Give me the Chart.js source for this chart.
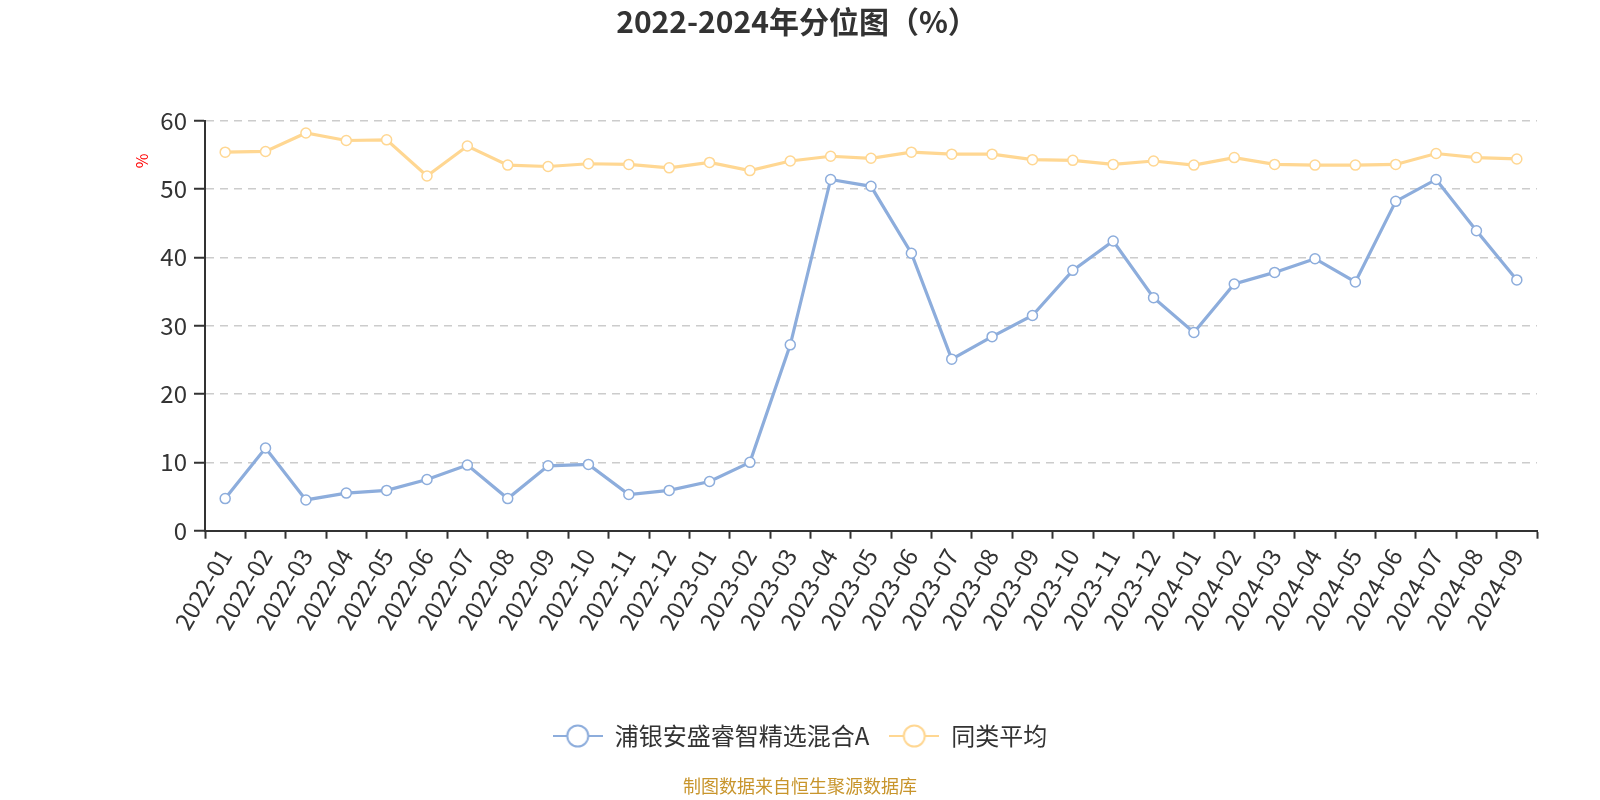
<!DOCTYPE html>
<html>
<head>
<meta charset="utf-8">
<script src="https://cdn.jsdelivr.net/npm/chart.js@4.4.1/dist/chart.umd.min.js"></script>
<style>
html,body{margin:0;padding:0;background:#fff;}
#wrap{width:1600px;height:800px;}
</style>
</head>
<body>
<div id="wrap"><canvas id="c" width="1600" height="800"></canvas></div>
<script>
const categories = ['2022-01','2022-02','2022-03','2022-04','2022-05','2022-06','2022-07','2022-08','2022-09','2022-10','2022-11','2022-12',
  '2023-01','2023-02','2023-03','2023-04','2023-05','2023-06','2023-07','2023-08','2023-09','2023-10','2023-11','2023-12',
  '2024-01','2024-02','2024-03','2024-04','2024-05','2024-06','2024-07','2024-08','2024-09'];
const fundValues = [4.7, 12.1, 4.5, 5.5, 5.9, 7.5, 9.6, 4.7, 9.5, 9.7, 5.3, 5.9,
  7.2, 10.0, 27.2, 51.4, 50.4, 40.6, 25.1, 28.4, 31.5, 38.1, 42.4, 34.1,
  29.0, 36.1, 37.8, 39.8, 36.4, 48.2, 51.4, 43.9, 36.7];
const avgValues = [55.4, 55.5, 58.2, 57.1, 57.2, 51.9, 56.3, 53.5, 53.3, 53.7, 53.6, 53.1,
  53.9, 52.7, 54.1, 54.8, 54.5, 55.4, 55.1, 55.1, 54.3, 54.2, 53.6, 54.1,
  53.5, 54.6, 53.6, 53.5, 53.5, 53.6, 55.2, 54.6, 54.4];
const seriesNames = ['浦银安盛睿智精选混合A', '同类平均'];
const titleText = '2022-2024年分位图（%）';
const footerText = '制图数据来自恒生聚源数据库';
const yAxisName = '%';

const BLUE = '#8DADDC';
const YELLOW = '#FFD792';
const FONT = '"Noto Sans CJK SC", "Noto Sans", sans-serif';

function legendIcon(color) {
  const cv = document.createElement('canvas');
  cv.width = 50; cv.height = 26;
  const g = cv.getContext('2d');
  g.strokeStyle = color;
  g.lineWidth = 2;
  g.beginPath(); g.moveTo(0, 13); g.lineTo(50, 13); g.stroke();
  g.beginPath(); g.arc(25, 13, 10.5, 0, Math.PI * 2);
  g.fillStyle = '#fff'; g.fill();
  g.stroke();
  return cv;
}
const icons = [legendIcon(BLUE), legendIcon(YELLOW)];

const placementPlugin = {
  id: 'placement',
  afterLayout(chart) {
    chart.boxes.forEach(b => {
      if (b === chart.titleBlock) { b.left = 0; b.right = 1594; b.width = 1594; }
      else if (b === chart.legend) { b.left = 0; b.right = 1600; b.width = 1600; }
      else if (b.options && b.options.text === footerText) { b.left = 0; b.right = 1600; b.width = 1600; }
    });
  },
  afterDraw(chart) {
    const ctx = chart.ctx;
    ctx.save();
    ctx.translate(142, 161);
    ctx.rotate(-Math.PI / 2);
    ctx.fillStyle = '#ff0000';
    ctx.font = '16px ' + FONT;
    ctx.textAlign = 'center';
    ctx.textBaseline = 'middle';
    ctx.fillText(yAxisName, 0, 0);
    ctx.restore();
  }
};

new Chart(document.getElementById('c'), {
  type: 'line',
  data: {
    labels: categories,
    datasets: [
      {label: seriesNames[0], data: fundValues, borderColor: BLUE, backgroundColor: '#fff',
       borderWidth: 3.2, pointRadius: 5, pointBorderWidth: 1.5, pointBackgroundColor: '#fff',
       pointBorderColor: BLUE, tension: 0},
      {label: seriesNames[1], data: avgValues, borderColor: YELLOW, backgroundColor: '#fff',
       borderWidth: 3.2, pointRadius: 5, pointBorderWidth: 1.5, pointBackgroundColor: '#fff',
       pointBorderColor: YELLOW, tension: 0}
    ]
  },
  options: {
    responsive: false,
    animation: false,
    devicePixelRatio: 1,
    layout: {padding: {left: 0, right: 63, top: 0, bottom: 0}},
    plugins: {
      tooltip: {enabled: false},
      title: {
        display: true, text: titleText, color: '#333',
        font: {family: FONT, size: 30, weight: 'bold', lineHeight: 1.2},
        padding: {top: 4, bottom: 80.7}
      },
      subtitle: {
        display: true, position: 'bottom', text: footerText, color: '#C8952C',
        font: {family: FONT, size: 18, weight: 'normal', lineHeight: 1.2},
        padding: {top: 17.2, bottom: 3.2}
      },
      legend: {
        position: 'bottom',
        labels: {
          usePointStyle: true, pointStyleWidth: 50, boxHeight: 22,
          padding: 20, color: '#333',
          font: {family: FONT, size: 24},
          generateLabels(chart) {
            return chart.data.datasets.map((ds, i) => ({
              text: ds.label, fillStyle: '#fff', strokeStyle: ds.borderColor,
              pointStyle: icons[i], lineWidth: 0, hidden: false, datasetIndex: i,
              fontColor: '#333'
            }));
          }
        }
      }
    },
    scales: {
      x: {
        offset: true,
        grid: {display: true, drawOnChartArea: false, drawTicks: true, tickLength: 8,
               tickColor: '#333', tickWidth: 2, offset: true},
        border: {display: true, color: '#333', width: 2},
        ticks: {color: '#333', font: {family: FONT, size: 24}, maxRotation: 60, minRotation: 60,
                autoSkip: false, padding: 5},
        afterFit(scale) { scale.height = 173.3; }
      },
      y: {
        min: 0, max: 60,
        grid: {color: '#cccccc', lineWidth: 1.5, drawTicks: true, tickLength: 11,
               tickColor: '#333', tickWidth: 2},
        border: {display: true, color: '#333', width: 2, dash: [8, 6]},
        ticks: {stepSize: 10, color: '#333', font: {family: FONT, size: 24}, padding: 7},
        afterFit(scale) { scale.width = 205; }
      }
    }
  },
  plugins: [placementPlugin]
});
</script>
</body>
</html>
